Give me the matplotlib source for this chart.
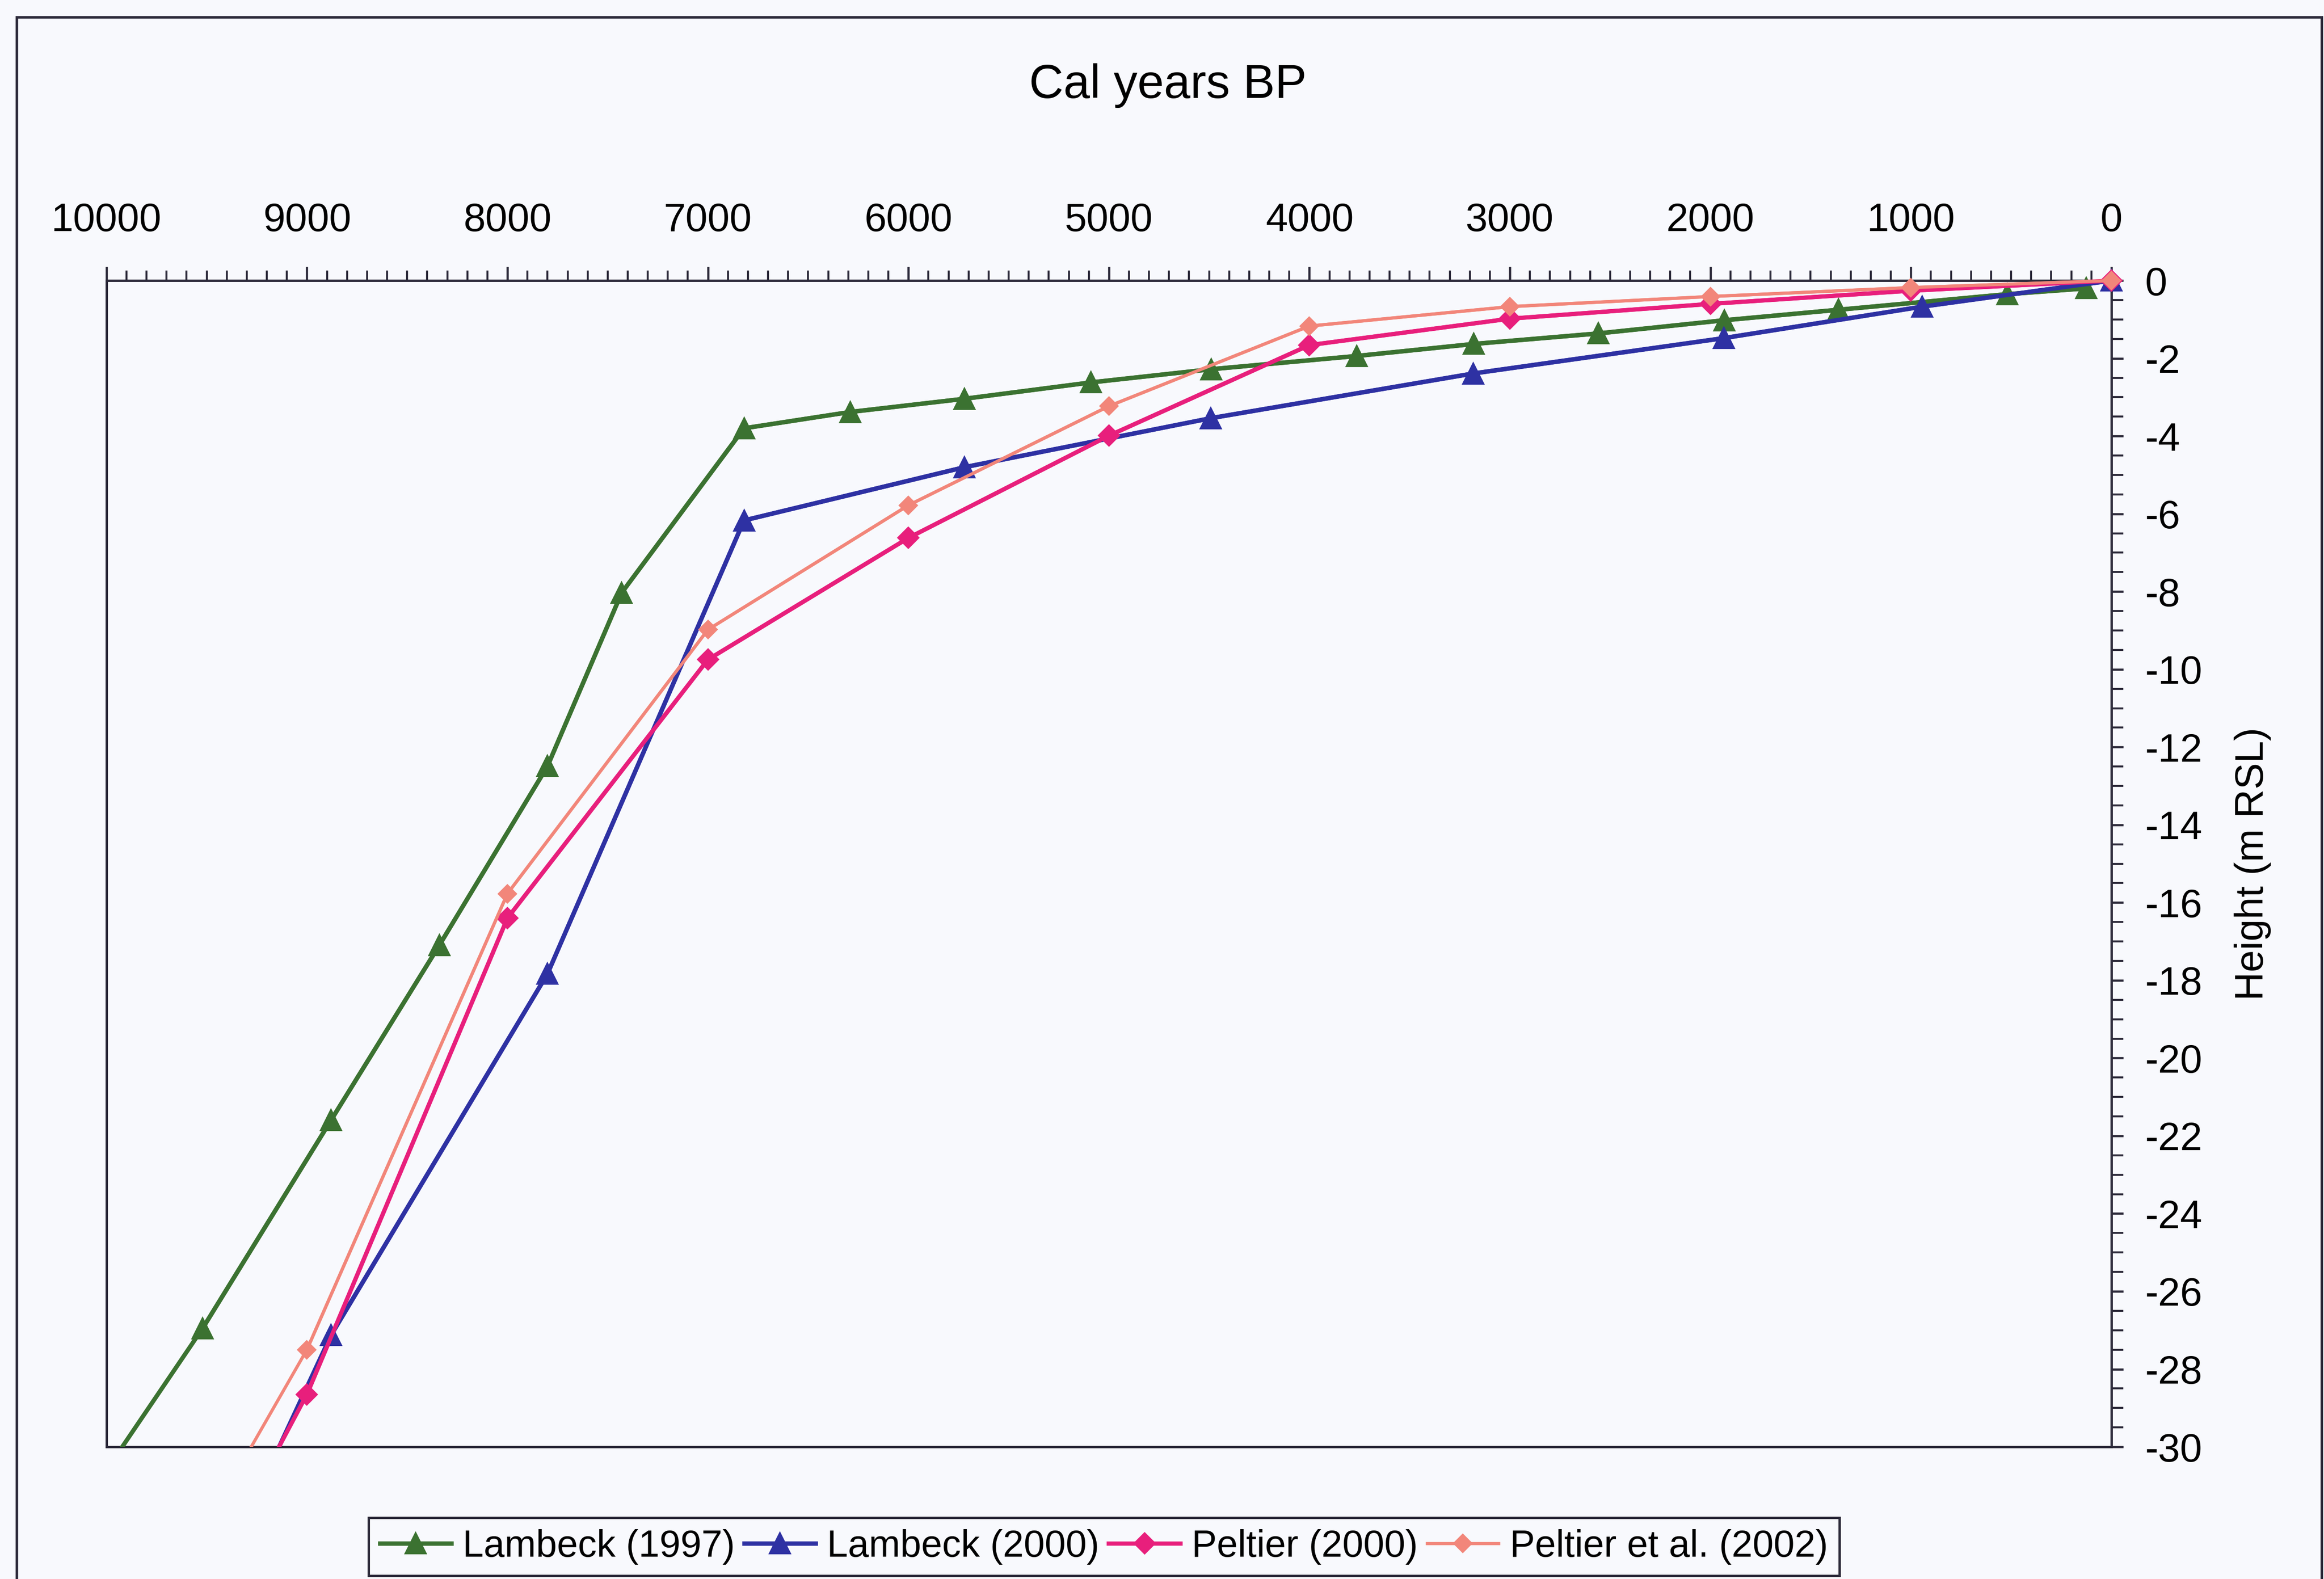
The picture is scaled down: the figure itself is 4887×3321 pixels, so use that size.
import matplotlib
matplotlib.use("Agg")
import matplotlib.pyplot as plt
import numpy as np
from matplotlib.patches import Rectangle
from matplotlib.ticker import MultipleLocator

plt.rcParams['font.family'] = ['Liberation Sans', 'DejaVu Sans']
plt.rcParams['axes.unicode_minus'] = False

# data (cal years BP, height m RSL)
# last value of each series lies below -30 and only shows as a clipped line
lambeck97_age = [125, 520, 1360, 1930, 2560, 3180, 3765, 4490, 5090, 5720,
                 6290, 6820, 7430, 7800, 8340, 8880, 9520, 10000]
lambeck97_h = [-0.2, -0.35, -0.75, -1.02, -1.36, -1.63, -1.94, -2.28, -2.62, -3.04,
               -3.38, -3.8, -8.03, -12.49, -17.1, -21.6, -26.95, -30.6]

lambeck00_age = [0, 943, 1933, 3183, 4492, 5720, 6820, 7800, 8880, 9500]
lambeck00_h = [0, -0.67, -1.48, -2.39, -3.54, -4.8, -6.17, -17.83, -27.13, -34.0]

peltier00_age = [0, 1000, 2000, 3000, 4000, 5000, 6000, 7000, 8000, 9000, 9500]
peltier00_h = [0, -0.26, -0.6, -0.98, -1.66, -3.99, -6.62, -9.75, -16.4, -28.65, -33.5]

peltier02_age = [0, 1000, 2000, 3000, 4000, 5000, 6000, 7000, 8000, 9000, 9500]
peltier02_h = [0, -0.18, -0.41, -0.67, -1.17, -3.23, -5.78, -8.98, -15.77, -27.5, -32.0]

series = [
    ("Lambeck (1997)", lambeck97_age, lambeck97_h, "#3b7231", "^", 10, 2.2),
    ("Lambeck (2000)", lambeck00_age, lambeck00_h, "#2e31a3", "^", 10, 2.2),
    ("Peltier (2000)", peltier00_age, peltier00_h, "#e81f7c", "D", 7.2, 2.1),
    ("Peltier et al. (2002)", peltier02_age, peltier02_h, "#f2867a", "D", 6.0, 1.6),
]

bg = "#f8f9fd"
edge = "#2c2a3a"

fig = plt.figure(figsize=(4887 / 300, 3321 / 300), dpi=300, facecolor=bg)
ax = fig.add_axes([0.0458, 0.0837, 0.9085 - 0.0458, 0.8223 - 0.0837])
ax.set_facecolor(bg)

handles = []
for name, age, h, col, mk, ms, lw in series:
    age = np.array(age)
    h = np.array(h)
    ax.plot(age, h, color=col, lw=lw, zorder=3)
    inside = h >= -30
    ln, = ax.plot(age[inside], h[inside], color=col, lw=lw, marker=mk, ms=ms,
                  mec=col, mfc=col, clip_on=False, zorder=4, label=name)
    handles.append(ln)

ax.set_xlim(10000, 0)
ax.set_ylim(-30, 0)

ax.xaxis.tick_top()
ax.yaxis.tick_right()
ax.xaxis.set_major_locator(MultipleLocator(1000))
ax.xaxis.set_minor_locator(MultipleLocator(100))
ax.yaxis.set_major_locator(MultipleLocator(2))
ax.yaxis.set_minor_locator(MultipleLocator(0.5))
ax.tick_params(axis='x', which='major', direction='out', length=7, width=1.1,
               color=edge, labelsize=20, pad=14)
ax.tick_params(axis='x', which='minor', direction='out', length=5, width=1.0, color=edge)
ax.tick_params(axis='y', which='major', direction='out', length=6, width=1.1,
               color=edge, labelsize=20, pad=11)
ax.tick_params(axis='y', which='minor', direction='out', length=6, width=1.0, color=edge)

for s in ax.spines.values():
    s.set_color(edge)
    s.set_linewidth(1.2)

fig.text(0.5026, 0.9458, "Cal years BP", fontsize=24, ha='center', va='center')
fig.text(0.9693, (0.8223 + 0.0837) / 2, "Height (m RSL)", fontsize=20,
         rotation=90, ha='center', va='center')

leg = fig.legend(handles=handles, loc='lower center', bbox_to_anchor=(0.475, 0.002),
                 ncol=4, fontsize=19, frameon=True, fancybox=False,
                 handlelength=1.9, handletextpad=0.3, columnspacing=0.25,
                 borderpad=0.3, borderaxespad=0.0)
leg.get_frame().set_edgecolor(edge)
leg.get_frame().set_linewidth(1.2)
leg.get_frame().set_facecolor(bg)
leg.get_frame().set_alpha(1)

# outer chart border (open at the bottom, as cropped in the original)
fig.patches.append(Rectangle((35 / 4887, -0.05), (4882 - 35) / 4887, 1.05 - 36 / 3321,
                             transform=fig.transFigure, fill=False,
                             edgecolor=edge, linewidth=1.3))

fig.savefig("out.png", dpi=300, facecolor=bg)
